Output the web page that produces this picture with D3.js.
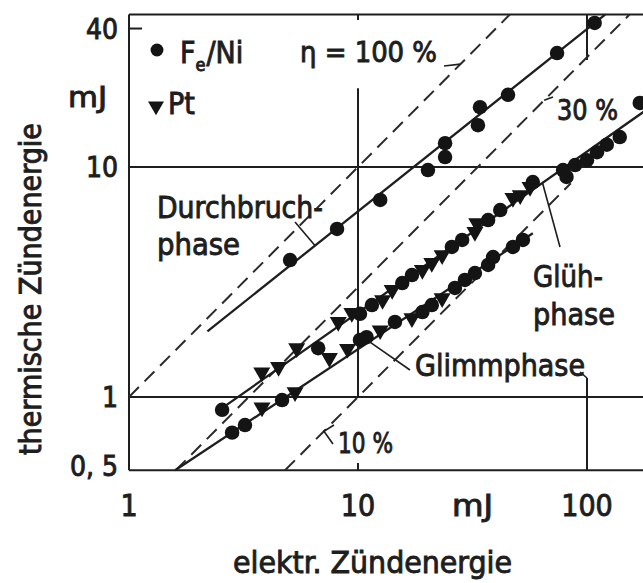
<!DOCTYPE html>
<meta charset="utf-8">
<style>
body { margin: 0; background: #fff; }
svg { display: block; font-family: "Liberation Sans Narrow", "DejaVu Sans Condensed", "Liberation Sans", sans-serif; }
.frame line { stroke: #1e1e1e; stroke-width: 2px; }
.fit { fill: none; stroke: #1e1e1e; stroke-width: 2.3px; }
.eta { fill: none; stroke: #2a2a2a; stroke-width: 2px; stroke-dasharray: 14 8; }
.lead { fill: none; stroke: #1e1e1e; stroke-width: 1.6px; }
.marks path { fill: #141414; }
text { fill: #1e1e1e; stroke: #1e1e1e; stroke-width: 0.9px; }
</style>
<svg width="643" height="583"></svg>
<script src="https://d3js.org/d3.v7.min.js"></script>
<script>

// Durchbruchphase, Fe/Ni electrodes  [elektr. mJ, thermisch mJ]
var durchFeNi = [[5.05, 3.94], [8.1, 5.38], [12.5, 7.19], [20.2, 9.7], [24, 11.05], [24, 12.7],
                 [33.4, 15.2], [34.1, 18.2], [45.2, 20.6], [74, 31.3], [108, 42.3]];

// Glühphase
var gluehFeNi = [[2.55, 0.88], [6.7, 1.63], [10.2, 2.3], [11.5, 2.51], [15.6, 3.13], [17.2, 3.39],
                 [25.7, 4.49], [28.5, 4.82], [37, 5.88], [41.8, 6.5], [58, 8.6], [78.6, 9.7],
                 [81.4, 9.05], [88.7, 10.2], [100, 10.7], [110.6, 11.6], [122, 12.5], [139, 13.5],
                 [170, 19]];
var gluehPt = [[3.8, 1.28], [4.5, 1.35], [5.4, 1.63], [7.5, 1.48], [8.2, 2.12], [9.4, 2.32],
               [12.8, 2.64], [14.1, 2.92], [19.1, 3.57], [21, 3.83], [23.3, 4.14], [32.4, 5.22],
               [33, 5.7], [47.5, 7.33], [51.1, 7.55], [56.4, 8.19]];

// Glimmphase
var glimmFeNi = [[2.82, 0.70], [3.21, 0.755], [4.66, 0.97], [10.2, 1.77], [10.9, 1.82], [14.5, 2.12],
                 [19.1, 2.34], [21, 2.51], [26.5, 2.98], [29.3, 3.23], [32.4, 3.46], [37, 3.75],
                 [38.9, 4.06], [47.5, 4.49], [52.5, 4.82]];
var glimmPt = [[3.81, 0.9], [5.31, 1.05], [9.0, 1.62], [12.5, 1.95], [17.2, 2.2], [23.3, 2.69]];

// fitted lines, start and end points
var fitDurch = [[2.2, 1.93], [120, 46]];
var fitGlueh = [[2.45, 0.87], [180, 17.6]];
var fitGlimm = [[1.59, 0.48], [58, 5.15]];

// lines of constant efficiency eta = thermisch / elektrisch
var etaValues = [1.0, 0.3, 0.1];
var etaFrom = [1, 1.6, 4.8];
var etaTo = [46, 153, 85];

var xTicks = [1, 10, 100];
var xTickLabels = ["1", "10", "100"];
var yTicks = [0.5, 1, 10, 40];
var yTickLabels = ["0, 5", "1", "10", "40"];

var svg = d3.select("svg");

var xMin = 1, xMax = 200, yMin = 0.48, yMax = 46;

var x = d3.scaleLog().domain([1, 100]).range([129, 587]);
var y = d3.scaleLog().domain([1, 10]).range([397, 167]);

var line = d3.line()
    .x(function(d) { return x(d[0]); })
    .y(function(d) { return y(d[1]); });

// frame and grid
var frame = svg.append("g").attr("class", "frame");

function seg(x1, y1, x2, y2) {
  frame.append("line")
      .attr("x1", x(x1)).attr("y1", y(y1))
      .attr("x2", x(x2)).attr("y2", y(y2));
}

seg(xMin, yMax, xMax, yMax);
seg(xMin, yMin, xMax, yMin);
seg(xMin, yMin, xMin, yMax);
seg(xMin, 1, xMax, 1);
seg(xMin, 10, xMax, 10);
// vertical at 10 mJ, broken where the labels sit
seg(10, yMax, 10, 43.6);
seg(10, 22, 10, 1);
seg(10, 0.516, 10, yMin);
// vertical at 100 mJ
seg(100, yMax, 100, 29.2);
seg(100, 1.21, 100, yMin);
// small tick at 40
frame.append("line")
    .attr("x1", x(1)).attr("x2", x(1) + 13)
    .attr("y1", y(40)).attr("y2", y(40));

// eta lines
svg.append("g").selectAll("path")
    .data(etaValues)
  .enter().append("path")
    .attr("class", "eta")
    .attr("d", function(d, i) {
      return line([[etaFrom[i], etaFrom[i] * d], [etaTo[i], etaTo[i] * d]]);
    });

// fits
svg.append("g").selectAll("path")
    .data([fitDurch, fitGlueh, fitGlimm])
  .enter().append("path")
    .attr("class", "fit")
    .attr("d", line);

// markers
var dot = d3.symbol().type(d3.symbolCircle).size(165);
var tri = d3.symbol().type(d3.symbolTriangle).size(125);

var marks = svg.append("g").attr("class", "marks");

marks.selectAll(".pt")
    .data(gluehPt.concat(glimmPt))
  .enter().append("path")
    .attr("class", "pt")
    .attr("d", tri)
    .attr("transform", function(d) { return "translate(" + x(d[0]) + "," + y(d[1]) + ") rotate(180)"; });

marks.selectAll(".fe")
    .data(durchFeNi.concat(gluehFeNi, glimmFeNi))
  .enter().append("path")
    .attr("class", "fe")
    .attr("d", dot)
    .attr("transform", function(d) { return "translate(" + x(d[0]) + "," + y(d[1]) + ")"; });

// leader lines
var lead = svg.append("g");
function leader(pts) {
  lead.append("path").attr("class", "lead").attr("d", d3.line()(pts));
}
leader([[295, 222], [x(6.5), y(4.55)]]);
leader([[x(64), y(8.5)], [560, 247]]);
leader([[x(11.2), y(1.74)], [410, 370]]);
leader([[580, 372], [587, 378]]);
leader([[x(28), y(28)], [444, 66]]);
leader([[x(65), y(19.5)], [553, 97]]);
leader([[334, 425], [x(7.1), y(0.71)], [333, 444]]);

// labels
function label(txt, px, py, len, size) {
  return svg.append("text")
      .attr("x", px).attr("y", py)
      .attr("font-size", size || 31)
      .attr("textLength", len)
      .attr("lengthAdjust", "spacingAndGlyphs")
      .text(txt);
}

label("Durchbruch-", 157, 218, 166);
label("phase", 157, 255, 83);
label("Glüh-", 533, 287, 70);
label("phase", 533, 325, 82);
label("Glimmphase", 415, 376, 170);
label("η = 100 %", 300, 62, 137, 29);
label("30 %", 557, 120, 61, 29);
label("10 %", 338, 453, 55, 29);

// legend
marks.append("path").attr("d", dot.size(130)).attr("transform", "translate(157,50)");
marks.append("path").attr("d", tri.size(110)).attr("transform", "translate(156,106) rotate(180)");

var fe = svg.append("text").attr("x", 180).attr("y", 63).attr("font-size", 30);
fe.append("tspan").text("F");
fe.append("tspan").attr("dy", 8).attr("font-size", 18).text("e");
fe.append("tspan").attr("dy", -8).attr("dx", 1).text("/Ni");
svg.append("text").attr("x", 168).attr("y", 114).attr("font-size", 30).text("Pt");

// axes
svg.append("g").selectAll("text")
    .data(yTicks)
  .enter().append("text")
    .attr("x", 118)
    .attr("y", function(d) { return y(d); })
    .attr("dy", "0.36em")
    .attr("text-anchor", "end")
    .attr("font-size", 28)
    .text(function(d, i) { return yTickLabels[i]; });

svg.append("g").selectAll("text")
    .data(xTicks)
  .enter().append("text")
    .attr("x", function(d) { return x(d); })
    .attr("y", 516)
    .attr("text-anchor", "middle")
    .attr("font-size", 30)
    .text(function(d, i) { return xTickLabels[i]; });

label("mJ", 68, 107, 39, 29);
label("mJ", 452, 516, 41, 30);
label("elektr. Zündenergie", 233, 573, 279, 31);

svg.append("text")
    .attr("transform", "translate(41,289) rotate(-90)")
    .attr("text-anchor", "middle")
    .attr("font-size", 31)
    .attr("textLength", 332)
    .attr("lengthAdjust", "spacingAndGlyphs")
    .text("thermische Zündenergie");

</script>
